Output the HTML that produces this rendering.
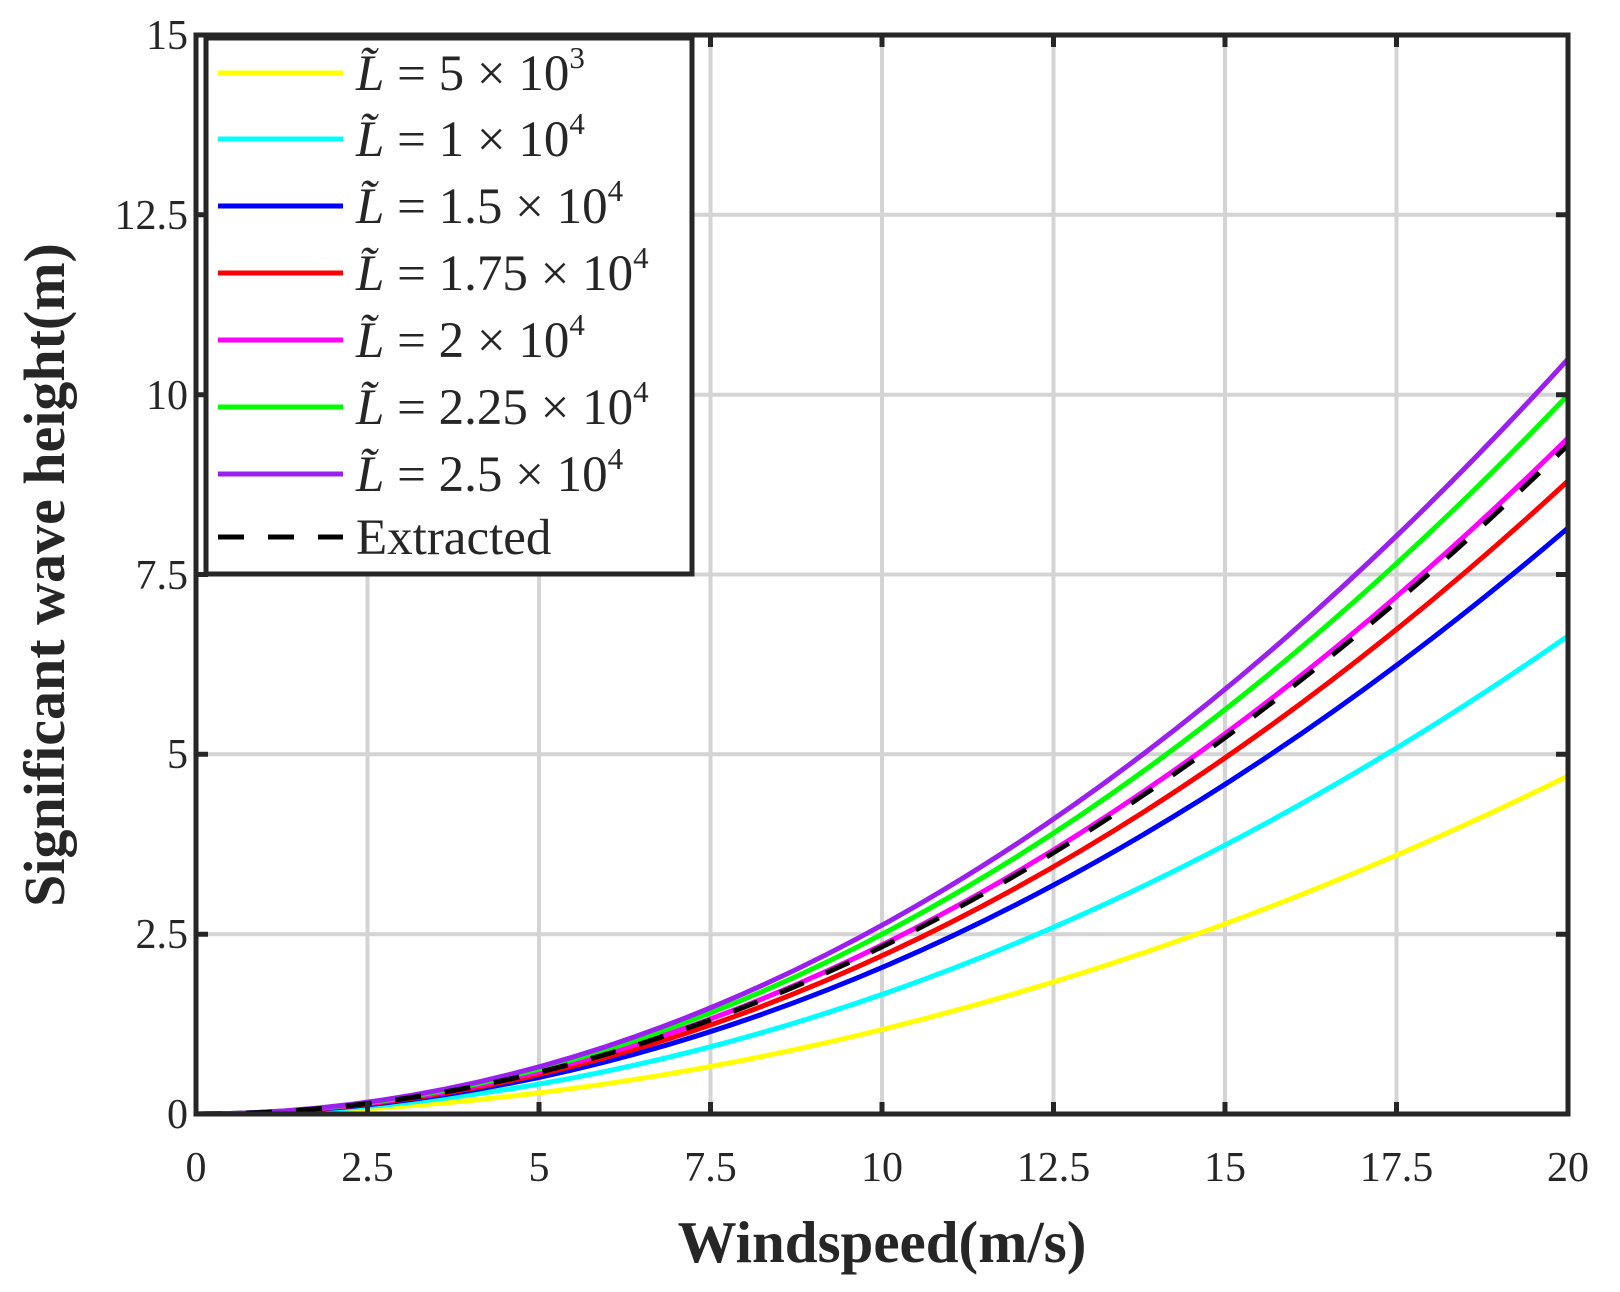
<!DOCTYPE html>
<html><head><meta charset="utf-8"><style>
body{margin:0;background:#fff}
svg text{font-family:"Liberation Serif",serif;fill:#262626}
</style></head><body>
<svg width="1620" height="1287" viewBox="0 0 1620 1287" xmlns="http://www.w3.org/2000/svg">
<rect width="1620" height="1287" fill="#fff"/>
<g stroke="#d4d4d4" stroke-width="4">
<line x1="367.5" y1="35" x2="367.5" y2="1114"/><line x1="539" y1="35" x2="539" y2="1114"/><line x1="710.5" y1="35" x2="710.5" y2="1114"/><line x1="882" y1="35" x2="882" y2="1114"/><line x1="1053.5" y1="35" x2="1053.5" y2="1114"/><line x1="1225" y1="35" x2="1225" y2="1114"/><line x1="1396.5" y1="35" x2="1396.5" y2="1114"/>
<line x1="196" y1="934.2" x2="1568" y2="934.2"/><line x1="196" y1="754.3" x2="1568" y2="754.3"/><line x1="196" y1="574.5" x2="1568" y2="574.5"/><line x1="196" y1="394.7" x2="1568" y2="394.7"/><line x1="196" y1="214.8" x2="1568" y2="214.8"/>
</g>
<g fill="none" stroke-width="5">
<path d="M196,1114 Q882,1114 1568,776" stroke="#ffff00"/>
<path d="M196,1114 Q882,1114 1568,636" stroke="#00ffff"/>
<path d="M196,1114 Q882,1114 1568,528" stroke="#0000ff"/>
<path d="M196,1114 Q882,1114 1568,481" stroke="#ff0000"/>
<path d="M196,1114 Q882,1114 1568,438" stroke="#ff00ff"/>
<path d="M196,1114 Q882,1114 1568,395" stroke="#00ff00"/>
<path d="M196,1114 Q882,1114 1568,359" stroke="#9b20ef"/>
<path d="M196,1114 Q882,1114 1568,445" stroke="#000" stroke-dasharray="26,24"/>
</g>
<g stroke="#262626" stroke-width="5" fill="none">
<rect x="196" y="35" width="1372" height="1079"/>
<path d="M367.5,1114v-12M539,1114v-12M710.5,1114v-12M882,1114v-12M1053.5,1114v-12M1225,1114v-12M1396.5,1114v-12M367.5,35v12M539,35v12M710.5,35v12M882,35v12M1053.5,35v12M1225,35v12M1396.5,35v12"/>
<path d="M196,934.2h12M196,754.3h12M196,574.5h12M196,394.7h12M196,214.8h12M1568,934.2h-12M1568,754.3h-12M1568,574.5h-12M1568,394.7h-12M1568,214.8h-12"/>
</g>
<g font-size="42" text-anchor="middle">
<text x="196" y="1181">0</text><text x="367.5" y="1181">2.5</text><text x="539" y="1181">5</text><text x="710.5" y="1181">7.5</text><text x="882" y="1181">10</text><text x="1053.5" y="1181">12.5</text><text x="1225" y="1181">15</text><text x="1396.5" y="1181">17.5</text><text x="1568" y="1181">20</text>
</g>
<g font-size="42" text-anchor="end">
<text x="188" y="1128">0</text><text x="188" y="948">2.5</text><text x="188" y="768">5</text><text x="188" y="589">7.5</text><text x="188" y="409">10</text><text x="188" y="229">12.5</text><text x="188" y="49">15</text>
</g>
<text x="882" y="1262" font-size="59" font-weight="bold" text-anchor="middle">Windspeed(m/s)</text>
<text transform="translate(64,575) rotate(-90)" font-size="58" font-weight="bold" text-anchor="middle">Significant wave height(m)</text>
<rect x="206" y="38" width="486" height="536" fill="#fff" stroke="#262626" stroke-width="5"/>
<g stroke-width="5">
<line x1="218" y1="73" x2="343" y2="73" stroke="#ffff00"/>
<line x1="218" y1="139" x2="343" y2="139" stroke="#00ffff"/>
<line x1="218" y1="206" x2="343" y2="206" stroke="#0000ff"/>
<line x1="218" y1="273" x2="343" y2="273" stroke="#ff0000"/>
<line x1="218" y1="340" x2="343" y2="340" stroke="#ff00ff"/>
<line x1="218" y1="407" x2="343" y2="407" stroke="#00ff00"/>
<line x1="218" y1="474" x2="343" y2="474" stroke="#9b20ef"/>
<line x1="218" y1="537" x2="343" y2="537" stroke="#000" stroke-dasharray="26,24"/>
</g>
<g font-size="51" fill="#000">
<text x="356" y="90"><tspan font-style="italic">L̃</tspan> = 5 × 10<tspan font-size="31" dy="-22">3</tspan></text>
<text x="356" y="156"><tspan font-style="italic">L̃</tspan> = 1 × 10<tspan font-size="31" dy="-22">4</tspan></text>
<text x="356" y="223"><tspan font-style="italic">L̃</tspan> = 1.5 × 10<tspan font-size="31" dy="-22">4</tspan></text>
<text x="356" y="290"><tspan font-style="italic">L̃</tspan> = 1.75 × 10<tspan font-size="31" dy="-22">4</tspan></text>
<text x="356" y="357"><tspan font-style="italic">L̃</tspan> = 2 × 10<tspan font-size="31" dy="-22">4</tspan></text>
<text x="356" y="424"><tspan font-style="italic">L̃</tspan> = 2.25 × 10<tspan font-size="31" dy="-22">4</tspan></text>
<text x="356" y="491"><tspan font-style="italic">L̃</tspan> = 2.5 × 10<tspan font-size="31" dy="-22">4</tspan></text>
<text x="356" y="554">Extracted</text>
</g>
</svg>
</body></html>
